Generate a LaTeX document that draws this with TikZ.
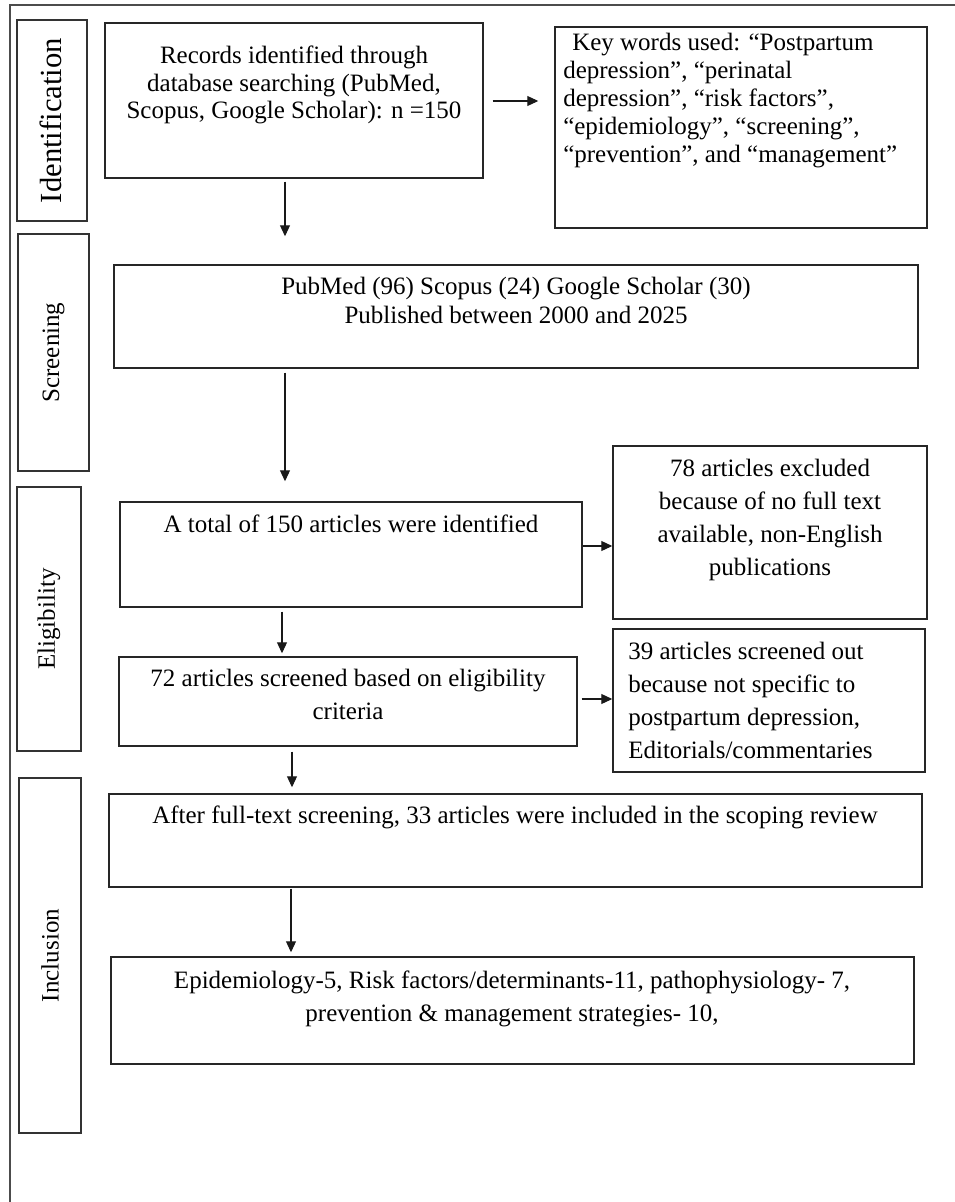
\documentclass[tikz,border=0pt]{standalone}
\usepackage{fontspec}
\setmainfont{Liberation Serif}
\usetikzlibrary{arrows.meta,fit}
\begin{document}
\begin{tikzpicture}[x=0.75pt,y=-0.75pt,
  box/.style={draw=black!85,line width=1.1pt,inner sep=0pt,fill=none},
  stagebox/.style={draw=black!80,line width=1.1pt,inner sep=0pt},
  txta/.style={inner sep=0pt,align=center,font=\fontsize{18.75}{20.5}\selectfont},
  txtb/.style={inner sep=0pt,align=center,font=\fontsize{18.75}{24.75}\selectfont},
  txtk/.style={inner sep=0pt,align=left,font=\fontsize{18.75}{21}\selectfont},
  stagelbl/.style={inner sep=0pt,rotate=90,font=\fontsize{18.75}{20}\selectfont},
  arr/.style={draw=black!90,line width=0.8pt,-{Triangle[length=8.25pt,width=7.5pt]}}
]
\useasboundingbox (0,0) rectangle (955,1202);
% outer frame
\coordinate (ftr) at (955,5);
\coordinate (ftl) at (10,5);
\coordinate (fbl) at (10,1202);
\draw[black!70,line width=1.3pt] (ftr) -- (ftl) -- (fbl);

% stage boxes
\node[stagebox,fit={(17,20) (87,221)}] (sid) {};
\node[stagebox,fit={(18,234) (89,471)}] (ssc) {};
\node[stagebox,fit={(17,487) (81,751)}] (sel) {};
\node[stagebox,fit={(19,778) (81,1133)}] (sin) {};
\node[stagelbl,font=\fontsize{23}{24}\selectfont] (lid) at ([xshift=-1pt]sid.center) {Identification};
\node[stagelbl] (lsc) at (ssc.center) {Screening};
\node[stagelbl] (lel) at (sel.center) {Eligibility};
\node[stagelbl] (lin) at (sin.center) {Inclusion};

% main boxes
\node[box,fit={(105,23) (483,178)}] (rec) {};
\node[box,fit={(555,27) (927,228)}] (key) {};
\node[box,fit={(114,265) (918,368)}] (pub) {};
\node[box,fit={(120,502) (582,607)}] (tot) {};
\node[box,fit={(613,446) (927,619)}] (exa) {};
\node[box,fit={(119,657) (577,746)}] (scr) {};
\node[box,fit={(613,629) (925,772)}] (exb) {};
\node[box,fit={(109,794) (922,887)}] (aft) {};
\node[box,fit={(111,957) (914,1064)}] (epi) {};

% texts
\node[txta,anchor=north] (trec) at (294,46) {Records identified through\\database searching (PubMed,\\Scopus, Google Scholar): n =150};
\node[txtk,anchor=north west] (tkey) at (563,33) {\hspace*{6.75pt}Key words used: “Postpartum\\depression”, “perinatal\\depression”, “risk factors”,\\“epidemiology”, “screening”,\\“prevention”, and “management”};
\node[txta,anchor=north,font=\fontsize{18.75}{21.75}\selectfont] (tpub) at (516,277) {PubMed (96) Scopus (24) Google Scholar (30)\\Published between 2000 and 2025};
\node[txtb,anchor=north] (ttot) at (351,515) {A total of 150 articles were identified};
\node[txtb,anchor=north] (texa) at (770,459) {78 articles excluded\\because of no full text\\available, non-English\\publications};
\node[txtb,anchor=north] (tscr) at (348,669) {72 articles screened based on eligibility\\criteria};
\node[txtb,anchor=north west,align=left] (texb) at (628,642) {39 articles screened out\\because not specific to\\postpartum depression,\\Editorials/commentaries};
\node[txtb,anchor=north] (taft) at (515,806) {After full-text screening, 33 articles were included in the scoping review};
\node[txtb,anchor=north] (tepi) at (512,971) {Epidemiology-5, Risk factors/determinants-11, pathophysiology- 7,\\prevention \& management strategies- 10,};

% connector guides
\coordinate (ca) at (285,101);
\coordinate (cb) at (282,0);
\coordinate (cc) at (292,0);
\coordinate (cd) at (291,0);
\coordinate (ra) at (0,101);
\coordinate (rb) at (0,546);
\coordinate (rc) at (0,699);

% connectors
\draw[arr,shorten <=6.75pt,shorten >=12pt] (rec.east |- ra) -- (key.west |- ra);
\draw[arr,shorten <=2.25pt,shorten >=21pt] (rec.south -| ca) -- (pub.north -| ca);
\draw[arr,shorten <=3pt,shorten >=15pt] (pub.south -| ca) -- (tot.north -| ca);
\draw[arr] (tot.east |- rb) -- (exa.west |- rb);
\draw[arr,shorten <=3pt,shorten >=2.25pt] (tot.south -| cb) -- (scr.north -| cb);
\draw[arr,shorten <=3pt] (scr.east |- rc) -- (exb.west |- rc);
\draw[arr,shorten <=3.75pt,shorten >=4.5pt] (scr.south -| cc) -- (aft.north -| cc);
\draw[arr,shorten <=0.75pt,shorten >=3pt] (aft.south -| cd) -- (epi.north -| cd);
\end{tikzpicture}
\end{document}
